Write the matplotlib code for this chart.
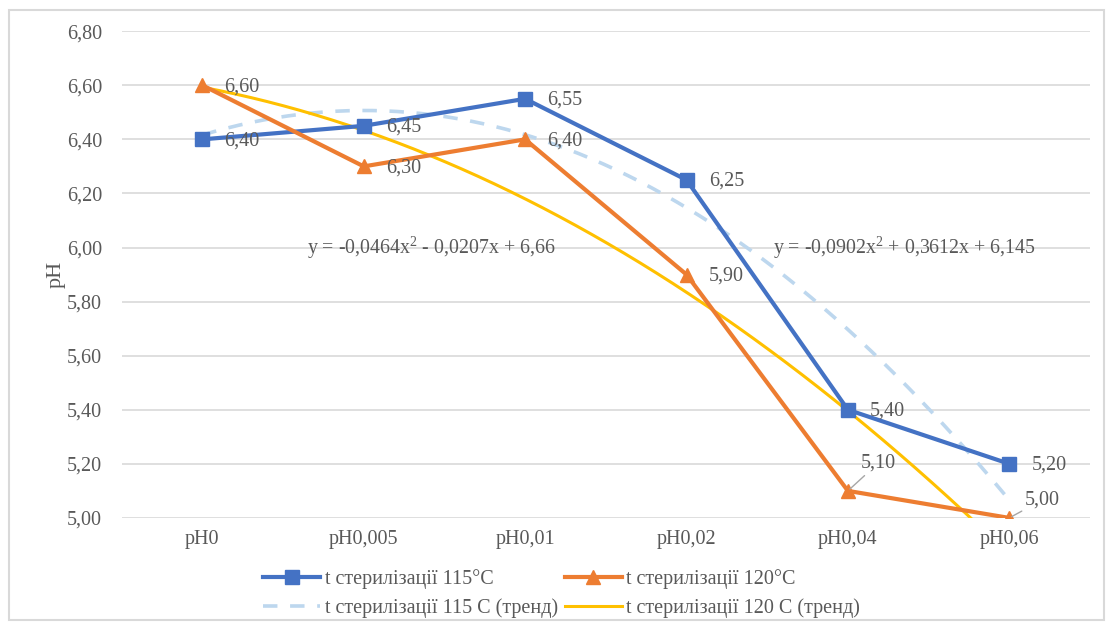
import numpy as np
import matplotlib.pyplot as plt

# categories and series values
categories = ["pH0", "pH0,005", "pH0,01", "pH0,02", "pH0,04", "pH0,06"]
ph_115 = [6.40, 6.45, 6.55, 6.25, 5.40, 5.20]
ph_120 = [6.60, 6.30, 6.40, 5.90, 5.10, 5.00]
labels_115 = ["6,40", "6,45", "6,55", "6,25", "5,40", "5,20"]
labels_120 = ["6,60", "6,30", "6,40", "5,90", "5,10", "5,00"]
yticks = [5.0, 5.2, 5.4, 5.6, 5.8, 6.0, 6.2, 6.4, 6.6, 6.8]
eq_115 = "y = -0,0902x$^2$ + 0,3612x + 6,145"
eq_120 = "y = -0,0464x$^2$ - 0,0207x + 6,66"

plt.rcParams["font.family"] = ["Liberation Serif", "DejaVu Serif"]
plt.rcParams["mathtext.fontset"] = "custom"
plt.rcParams["mathtext.rm"] = "Liberation Serif"
txt = "#595959"

fig = plt.figure(figsize=(11.06, 6.24), dpi=100)
ax = fig.add_axes([0.110, 0.170, 0.8755, 0.780])

x = np.arange(1, len(categories) + 1)

# second-order polynomial trendlines (as Excel does)
xs = np.linspace(1, 6, 200)
t115 = np.polyval(np.polyfit(x, ph_115, 2), xs)
t120 = np.polyval(np.polyfit(x, ph_120, 2), xs)

l1, = ax.plot(x, ph_115, color="#4472C4", lw=3.0, marker="s", ms=10.5, zorder=4,
              label="t стерилізації 115°C")
l2, = ax.plot(x, ph_120, color="#ED7D31", lw=3.0, marker="^", ms=10.5, zorder=4,
              label="t стерилізації 120°C")
l3, = ax.plot(xs, t115, color="#BDD7EE", lw=2.6, ls=(0, (4, 3.5)), zorder=3,
              label="t стерилізації 115 C (тренд)")
l4, = ax.plot(xs, t120, color="#FFC000", lw=2.2, zorder=3,
              label="t стерилізації 120 C (тренд)")

fs = 14.5
# data labels
for i in range(len(x)):
    ax.annotate(labels_115[i], (x[i], ph_115[i]), xytext=(16, -1),
                textcoords="offset points", va="center", ha="left",
                fontsize=fs, color=txt, zorder=5)
for i in range(len(x)):
    if i == 4:
        ax.annotate(labels_120[i], (x[i], ph_120[i]), xytext=(9, 13),
                    textcoords="offset points", va="bottom", ha="left",
                    fontsize=fs, color=txt, zorder=5,
                    arrowprops=dict(arrowstyle="-", color="#A6A6A6", lw=1,
                                    shrinkA=0, shrinkB=2))
    elif i == 5:
        ax.annotate(labels_120[i], (x[i], ph_120[i]), xytext=(11, 6),
                    textcoords="offset points", va="bottom", ha="left",
                    fontsize=fs, color=txt, zorder=5,
                    arrowprops=dict(arrowstyle="-", color="#A6A6A6", lw=1,
                                    shrinkA=0, shrinkB=2))
    else:
        ax.annotate(labels_120[i], (x[i], ph_120[i]), xytext=(16, -1),
                    textcoords="offset points", va="center", ha="left",
                    fontsize=fs, color=txt, zorder=5)

# trendline equations
ax.text(2.42, 6.0, eq_120, ha="center", va="center", fontsize=14.3, color=txt, zorder=5)
ax.text(5.35, 6.0, eq_115, ha="center", va="center", fontsize=14.3, color=txt, zorder=5)

ax.set_xlim(0.5, 6.5)
ax.set_ylim(5.0, 6.8)
ax.set_xticks(x)
ax.set_xticklabels(categories)
ax.set_yticks(yticks)
ax.set_yticklabels([f"{v:.2f}".replace(".", ",") for v in yticks])
ax.tick_params(length=0, labelsize=14.5, colors=txt, pad=9)
ax.tick_params(axis="y", pad=14)
ax.grid(axis="y", color="#D9D9D9", lw=1.2)
ax.set_axisbelow(True)
for s in ax.spines.values():
    s.set_visible(False)
ax.set_ylabel("pH", fontsize=16, color=txt, labelpad=1)

# row-wise order: 115, 120 / 115 trend, 120 trend
fig.legend(handles=[l1, l3, l2, l4], loc="center left", bbox_to_anchor=(0.2215, 0.049),
           ncol=2, frameon=False, fontsize=14.5, handlelength=2.85, handletextpad=0.2,
           columnspacing=0.35, labelspacing=0.45, labelcolor=txt)

# outer chart border
fig.patches.append(plt.Rectangle((0.008, 0.006), 0.99, 0.978, transform=fig.transFigure,
                                 fill=False, edgecolor="#D9D9D9", lw=1.5))

fig.savefig("out.png", dpi=100)
